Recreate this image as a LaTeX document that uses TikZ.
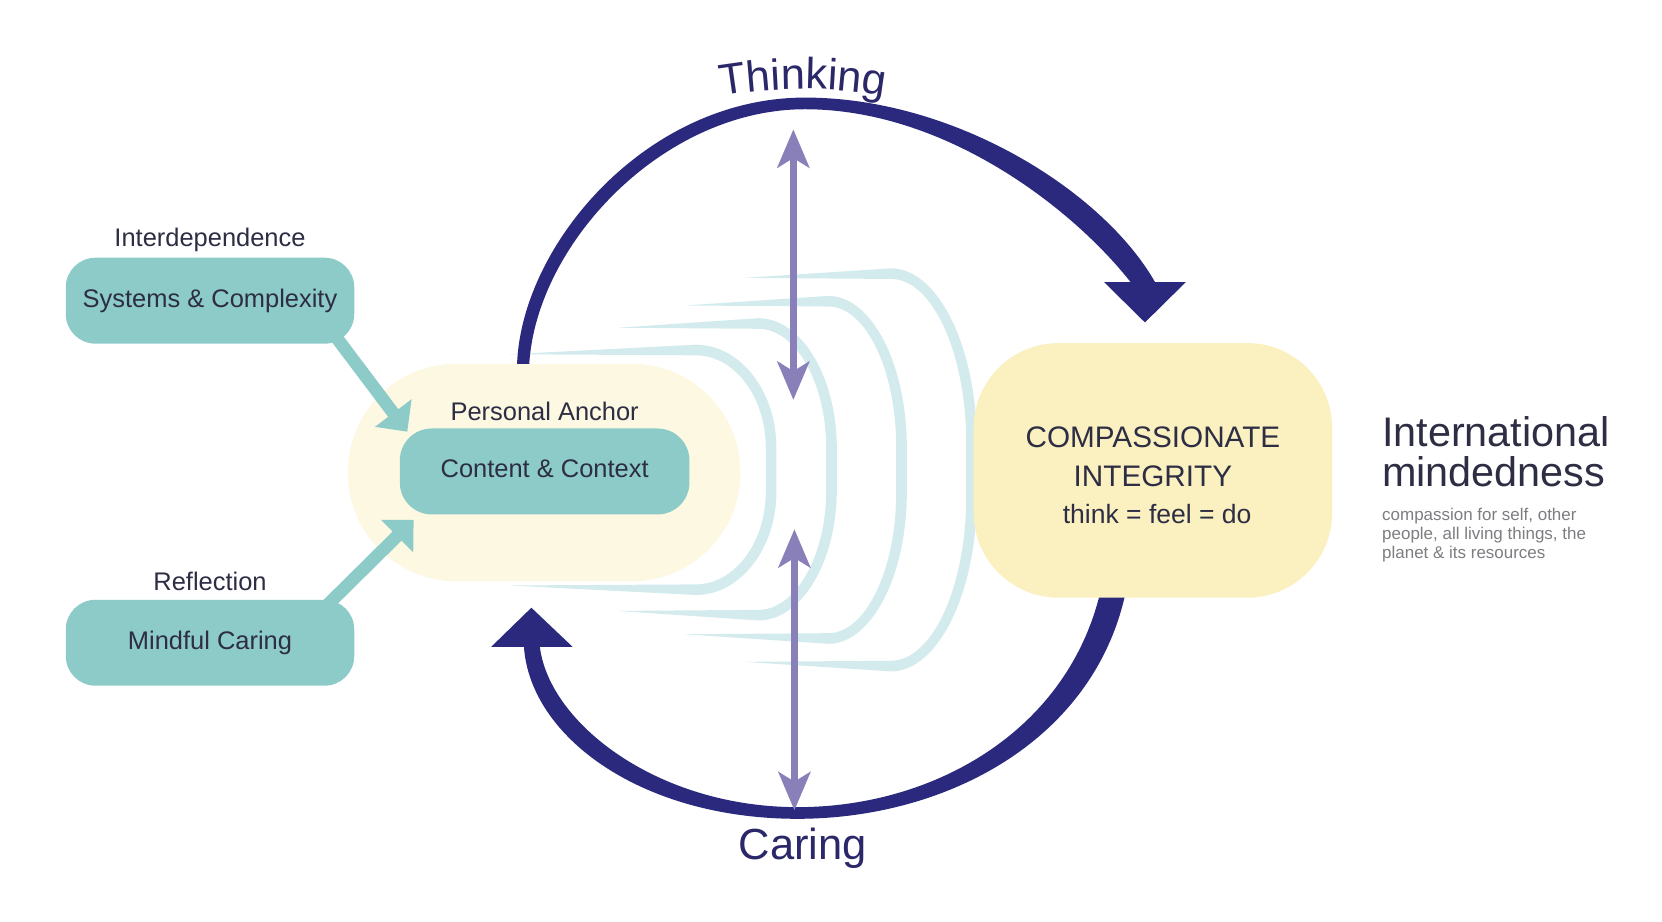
\documentclass[tikz,border=0pt]{standalone}
\usepackage{fontspec}
\setmainfont{Liberation Sans}
\usetikzlibrary{arrows.meta,decorations.text}

\definecolor{navy}{RGB}{43,41,125}
\definecolor{navytext}{RGB}{42,40,105}
\definecolor{purp}{RGB}{137,127,185}
\definecolor{tealbox}{RGB}{141,203,200}
\definecolor{curvecol}{RGB}{211,235,236}
\definecolor{pillcol}{RGB}{253,248,226}
\definecolor{cibox}{RGB}{251,240,192}
\definecolor{txt}{RGB}{45,45,68}
\definecolor{greytxt}{RGB}{125,125,130}

\newcommand\fsz[1]{\fontsize{#1}{#1}\selectfont}
% xL yT xR yB rx ry
\newcommand\tealcurve[6]{%
 \fill[curvecol] (#1,#2+4) -- ({#3-#5},{#2-5})
   .. controls ({#3-#5+0.55*(#5+5)},{#2-5}) and ({#3+5},{#2+#6-0.55*(#6+5)}) .. ({#3+5},{#2+#6})
   -- ({#3+5},{#4-#6})
   .. controls ({#3+5},{#4-#6+0.55*(#6+5)}) and ({#3-#5+0.55*(#5+5)},{#4+5}) .. ({#3-#5},{#4+5})
   -- (#1,#4-4) -- ({#3-#5},{#4-5})
   .. controls ({#3-#5+0.55*(#5-5)},{#4-5}) and ({#3-5},{#4-#6+0.55*(#6-5)}) .. ({#3-5},{#4-#6})
   -- ({#3-5},{#2+#6})
   .. controls ({#3-5},{#2+#6-0.55*(#6-5)}) and ({#3-#5+0.55*(#5-5)},{#2+5}) .. ({#3-#5},{#2+5})
   -- cycle;}

\begin{document}
\begin{tikzpicture}[x=1pt,y=-1pt,
  tbox/.style={fill=tealbox, rounded corners=28pt, minimum width=272pt, minimum height=81pt,
    inner sep=0pt, text height=12pt, text depth=0pt, font=\fsz{24}, text=txt},
  lbl/.style={anchor=base, text=txt, font=\fsz{24}, inner sep=0pt},
  txtnode/.style={inner sep=0pt, text=txt},
  tarrow/.style={draw=tealbox, line width=12pt, -{Triangle[length=22pt,width=42pt]}},
  parrow/.style={draw=purp, line width=6.5pt,
    {Stealth[length=36pt,width=30pt,inset=9pt]}-{Stealth[length=36pt,width=30pt,inset=9pt]}},
]
\useasboundingbox (0,0) rectangle (1567,869);
\fill[white] (0,0) rectangle (1567,869);

% personal anchor pill
\node[fill=pillcol, rounded corners=102pt, minimum width=370pt, minimum height=205pt, inner sep=0pt] (pa) at (513,445.5) {};

% light teal curves
\tealcurve{481}{330}{727}{556}{71}{92}
\tealcurve{583}{305}{784}{580}{69}{118}
\tealcurve{646}{284}{850}{602}{69}{138}
\tealcurve{702}{258}{916}{628}{76}{160}

% navy arrows
\fill[navy] (487.5,343) .. controls (492,230) and (610,92) .. (759,92)
  .. controls (900,92) and (1040,180) .. (1089,266)
  -- (1118,266) -- (1079.5,304) -- (1041,266) -- (1066,266)
  .. controls (1010,195) and (890,103) .. (759,103)
  .. controls (625,103) and (506,230) .. (499,343) -- cycle;
\fill[navy] (1061,560) .. controls (1030,700) and (890,772) .. (752,772)
  .. controls (605,772) and (500,695) .. (494,610)
  -- (463,610) -- (501,573) -- (540,610) -- (509,610)
  .. controls (518,682) and (620,761) .. (752,761)
  .. controls (880,761) and (1005,690) .. (1037,560) -- cycle;

% compassionate integrity box
\node[fill=cibox, rounded corners=80pt, minimum width=338pt, minimum height=240pt, inner sep=0pt] (ci) at (1087,443.5) {};
\node[txtnode, anchor=base, font=\fsz{28}] (ci1) at (1087,421.5) {COMPASSIONATE};
\node[txtnode, anchor=base, font=\fsz{28}] (ci2) at (1087,459) {INTEGRITY};
\node[txtnode, anchor=base, font=\fsz{25}] (ci3) at (1091,494) {think = feel = do};

% left boxes
\node[tbox] (sys) at (198,283.5) {Systems \& Complexity};
\node[tbox] (mind) at (198,606) {Mindful Caring};
\node[tbox, minimum width=273pt, rounded corners=30pt] (cc) at (513.5,444.5) {Content \& Context};
\node[lbl] (interd) at (198,232) {Interdependence};
\node[lbl] (refl) at (198,557) {Reflection};
\node[lbl] (palbl) at (513.5,396) {Personal Anchor};

% teal arrows
\coordinate (s1) at (311,310);
\coordinate (t1) at (384,407);
\coordinate (s2) at (303,576);
\coordinate (t2) at (390,490);
\draw[tarrow] (s1) -- (t1);
\draw[tarrow] (s2) -- (t2);

% purple double arrows
\coordinate (u1) at (748,122);
\coordinate (u2) at (748,377);
\coordinate (l1) at (749,499);
\coordinate (l2) at (749,764);
\draw[parrow] (u1) -- (u2);
\draw[parrow] (l1) -- (l2);

% Thinking / Caring
\path[decorate, decoration={text along path, text={|\fsz{41}|Thinking}, text align=center, text color=navytext}]
  (757,544) ++(-110:460) arc[start angle=-110, end angle=-70, radius=460];
\node[txtnode, anchor=base, font=\fsz{41}, text=navytext] (caring) at (757,810) {Caring};

% international mindedness
\node[txtnode, anchor=base west, font=\fsz{39}] (im1) at (1303,421) {International};
\node[txtnode, anchor=base west, font=\fsz{39}] (im2) at (1303,459) {mindedness};
\node[txtnode, anchor=base west, font=\fsz{16}, text=greytxt] (sm1) at (1303,491) {compassion for self, other};
\node[txtnode, anchor=base west, font=\fsz{16}, text=greytxt] (sm2) at (1303,509) {people, all living things, the};
\node[txtnode, anchor=base west, font=\fsz{16}, text=greytxt] (sm3) at (1303,527) {planet \& its resources};
\end{tikzpicture}
\end{document}
